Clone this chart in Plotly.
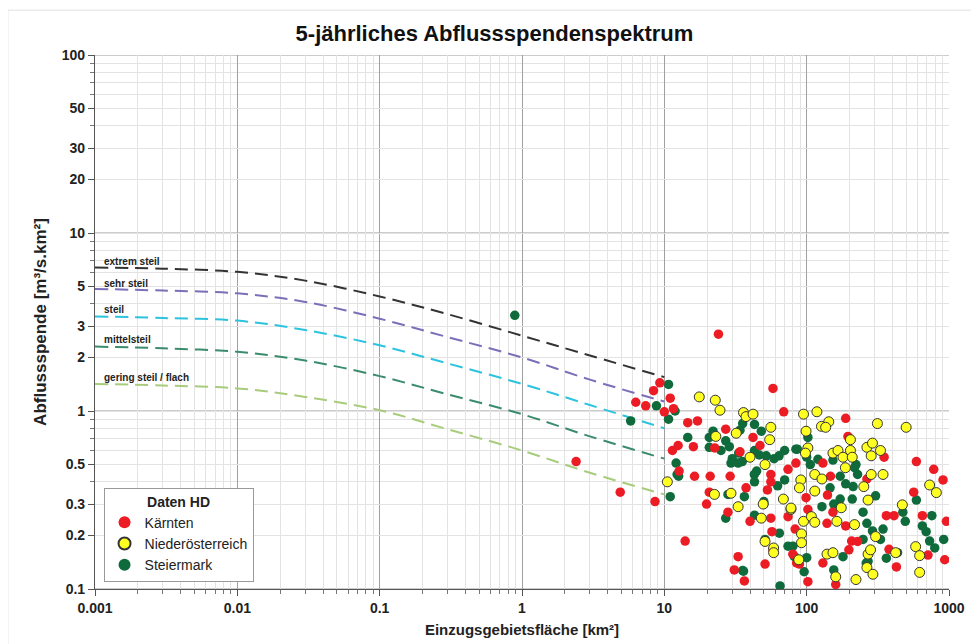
import plotly.graph_objects as go

# Bemessungskurven (Abflussspende je Steilheitsklasse)
curve_area = [0.001, 0.003, 0.01, 0.03, 0.1, 0.3, 1, 3, 10]
extrem_steil = [6.4, 6.3, 6.05, 5.4, 4.4, 3.5, 2.65, 2.05, 1.55]
sehr_steil = [4.85, 4.75, 4.58, 4.1, 3.3, 2.6, 2.0, 1.5, 1.13]
steil = [3.4, 3.33, 3.22, 2.85, 2.34, 1.85, 1.42, 1.08, 0.80]
mittelsteil = [2.3, 2.25, 2.15, 1.92, 1.57, 1.24, 0.96, 0.72, 0.54]
gering_steil = [1.42, 1.39, 1.34, 1.2, 1.01, 0.79, 0.60, 0.45, 0.34]

curve_names = ["extrem steil", "sehr steil", "steil", "mittelsteil", "gering steil / flach"]
curve_label_y = [0.84, 0.716, 0.57, 0.402, 0.19]  # log10 position of the labels

# Daten HD - Kärnten
kaernten_area = [24, 9.3, 8.4, 7.4, 6.3, 10, 11, 11.6, 14.6, 17.1, 11.4, 12.5, 16, 27, 22.6, 34, 42, 47,
                 58, 69, 84, 2.4, 4.9, 8.6, 12.7, 16.3, 21, 29, 37.5, 53, 56, 56, 74, 20.7, 19.8, 28, 40,
                 56, 57, 58, 74, 83, 80, 85, 51, 33, 31, 36.5, 14, 188, 195, 350, 590, 130, 147, 265,
                 781, 908, 565, 99, 140, 102, 153, 139, 188, 207, 228, 198, 363, 411, 650, 959, 379,
                 427, 712, 933, 130, 102, 160, 89]
kaernten_q = [2.7, 1.44, 1.30, 1.07, 1.12, 0.99, 1.18, 1.03, 0.86, 0.88, 0.60, 0.64, 0.63, 0.79, 0.62,
              0.59, 0.71, 0.64, 1.34, 0.99, 0.51, 0.52, 0.35, 0.31, 0.46, 0.43, 0.43, 0.43, 0.37, 0.36,
              0.40, 0.44, 0.47, 0.35, 0.30, 0.27, 0.24, 0.25, 0.21, 0.166, 0.255, 0.217, 0.157, 0.14,
              0.138, 0.152, 0.128, 0.111, 0.186, 0.91, 0.72, 0.55, 0.52, 0.51, 0.43, 0.415, 0.47, 0.41,
              0.35, 0.326, 0.337, 0.28, 0.27, 0.234, 0.226, 0.186, 0.185, 0.166, 0.258, 0.258, 0.258,
              0.24, 0.167, 0.133, 0.155, 0.146, 0.14, 0.11, 0.106, 0.138]

# Daten HD - Niederösterreich
noe_area = [10.5, 17.6, 22.8, 24.6, 36, 37.5, 42, 56, 55, 32, 23, 40, 51, 95, 118, 127, 143, 136, 99,
            203, 314, 500, 102, 98, 153, 166, 180, 203, 209, 265, 290, 284, 330, 22.5, 29.4, 33, 49.5,
            48, 51, 58.6, 58.6, 68.6, 77.5, 91, 89, 114, 128, 114, 187, 284, 344, 252, 270, 175, 470,
            731, 815, 77.6, 95, 108, 114, 163, 217, 92, 92, 139, 153, 305, 270, 281, 265, 292, 222,
            160, 422, 583, 622, 622, 88]
noe_q = [0.40, 1.20, 1.15, 1.01, 0.98, 0.93, 0.96, 0.81, 0.69, 0.75, 0.72, 0.55, 0.50, 0.96, 0.99, 0.82,
         0.87, 0.81, 0.77, 0.69, 0.85, 0.81, 0.62, 0.58, 0.58, 0.60, 0.55, 0.60, 0.55, 0.625, 0.66, 0.56,
         0.60, 0.34, 0.345, 0.29, 0.30, 0.25, 0.185, 0.17, 0.16, 0.32, 0.28, 0.41, 0.37, 0.44, 0.415,
         0.355, 0.48, 0.44, 0.44, 0.376, 0.316, 0.286, 0.297, 0.384, 0.348, 0.285, 0.24, 0.255, 0.237,
         0.24, 0.23, 0.204, 0.182, 0.157, 0.16, 0.197, 0.157, 0.166, 0.132, 0.121, 0.113, 0.117, 0.16,
         0.173, 0.154, 0.124, 0.146]

# Daten HD - Steiermark
stmk_area = [0.89, 5.8, 10.7, 8.8, 10.7, 11.9, 11, 12.1, 12.3, 12.6, 14.6, 20.7, 22, 20.7, 25, 27, 28.6,
             30, 34, 35.5, 43, 48, 52, 59, 70, 84, 43, 46.5, 29.4, 35.3, 64, 33.3, 102, 86, 120, 153, 106,
             222, 27, 28, 36.5, 42.9, 43, 43, 50, 51, 62.5, 64.3, 70, 74, 80, 65, 36, 33, 44.5, 100, 172,
             188, 212, 228, 217, 146, 172, 209, 128, 249, 305, 265, 290, 344, 330, 363, 474, 493, 590,
             650, 691, 758, 794, 731, 918, 180, 155, 96, 82, 270, 249, 100, 262, 435, 155, 50, 35.5]
stmk_q = [3.45, 0.88, 1.41, 1.07, 0.90, 1.0, 0.33, 0.51, 0.44, 0.43, 0.71, 0.71, 0.77, 0.625, 0.60, 0.68,
          0.63, 0.54, 0.78, 0.85, 0.84, 0.77, 0.56, 0.54, 0.60, 0.61, 0.60, 0.566, 0.51, 0.52, 0.56, 0.58,
          0.71, 0.61, 0.535, 0.53, 0.50, 0.50, 0.25, 0.34, 0.33, 0.44, 0.40, 0.26, 0.31, 0.19, 0.38,
          0.206, 0.41, 0.174, 0.174, 0.104, 0.126, 0.51, 0.46, 0.55, 0.43, 0.39, 0.376, 0.44, 0.48, 0.37,
          0.32, 0.32, 0.29, 0.27, 0.334, 0.234, 0.212, 0.217, 0.19, 0.149, 0.27, 0.24, 0.316, 0.226, 0.21,
          0.258, 0.17, 0.186, 0.19, 0.152, 0.128, 0.125, 0.152, 0.143, 0.19, 0.15, 0.14, 0.16, 0.30, 0.30,
          0.127]

x_ticks = [0.001, 0.01, 0.1, 1, 10, 100, 1000]
x_ticktext = ["0.001", "0.01", "0.1", "1", "10", "100", "1000"]
y_ticks = [0.1, 0.2, 0.3, 0.5, 1, 2, 3, 5, 10, 20, 30, 50, 100]
y_ticktext = ["0.1", "0.2", "0.3", "0.5", "1", "2", "3", "5", "10", "20", "30", "50", "100"]

FONT = "Liberation Sans, Arial, sans-serif"

fig = go.Figure()

curves = [extrem_steil, sehr_steil, steil, mittelsteil, gering_steil]
curve_colors = ["#333333", "#7a6fb8", "#2cc3df", "#3a8c6c", "#a8cc7c"]
for name, vals, col in zip(curve_names, curves, curve_colors):
    fig.add_trace(go.Scatter(
        x=curve_area, y=vals, mode="lines", name=name, showlegend=False,
        line=dict(color=col, width=2, dash="13px,7px", shape="spline"),
    ))

fig.add_trace(go.Scatter(
    x=stmk_area, y=stmk_q, mode="markers", name="Steiermark", legendrank=3,
    marker=dict(color="#0f6b3b", size=9.5, line=dict(width=0)),
))
fig.add_trace(go.Scatter(
    x=kaernten_area, y=kaernten_q, mode="markers", name="Kärnten", legendrank=1,
    marker=dict(color="#ec1c24", size=9.5, line=dict(width=0)),
))
fig.add_trace(go.Scatter(
    x=noe_area, y=noe_q, mode="markers", name="Niederösterreich", legendrank=2,
    marker=dict(color="#ffff22", size=10, line=dict(width=1, color="#333333")),
))

# labels of the curves
for name, ly in zip(curve_names, curve_label_y):
    fig.add_annotation(x=-2.95, y=ly, xref="x", yref="y", text=name, showarrow=False,
                       xanchor="left", yanchor="middle",
                       font=dict(family=FONT, size=10, color="#222", weight="bold"))

# darker decade lines on the y axis
shapes = []
for v in [0.1, 1, 10, 100]:
    shapes.append(dict(type="line", xref="paper", yref="y", x0=0, x1=1, y0=v, y1=v,
                       line=dict(color="#9a9a9a", width=1.2), layer="between"))
# light outer frame
shapes.append(dict(type="line", xref="paper", yref="paper", x0=-0.102, x1=1.1, y0=1.084, y1=1.084,
                   line=dict(color="#e2e2e2", width=1)))
shapes.append(dict(type="line", xref="paper", yref="paper", x0=-0.102, x1=-0.102, y0=-0.12, y1=1.084,
                   line=dict(color="#e2e2e2", width=1)))

minor_x = [m * 10 ** e for e in range(-3, 3) for m in range(2, 10)]
minor_y = [m * 10 ** e for e in range(-1, 2) for m in [4, 6, 7, 8, 9]]

fig.update_layout(
    width=971, height=636,
    margin=dict(l=87, r=30, t=47, b=55),
    paper_bgcolor="white", plot_bgcolor="white",
    font=dict(family=FONT, color="#222"),
    title=dict(text="5-jährliches Abflussspendenspektrum", x=0.501, xanchor="center",
               y=0.961, yanchor="middle", yref="container",
               font=dict(family=FONT, size=22, color="#111", weight="bold")),
    xaxis=dict(
        type="log", range=[-3, 3], tickvals=x_ticks, ticktext=x_ticktext,
        showgrid=True, gridcolor="#a0a0a0", gridwidth=1,
        ticks="outside", ticklen=6, tickcolor="#555",
        showline=True, linecolor="#555", linewidth=1.2, mirror=False,
        tickfont=dict(family=FONT, size=14, color="#222", weight="bold"),
        minor=dict(tickvals=minor_x, showgrid=True, gridcolor="#e3e3e3", ticks="outside",
                   ticklen=4, tickcolor="#777"),
        title=dict(text="Einzugsgebietsfläche [km²]", standoff=9,
                   font=dict(family=FONT, size=15, color="#222", weight="bold")),
        zeroline=False, automargin=False,
    ),
    yaxis=dict(
        type="log", range=[-1, 2], tickvals=y_ticks, ticktext=y_ticktext,
        showgrid=True, gridcolor="#e3e3e3", gridwidth=1,
        ticks="outside", ticklen=6, tickcolor="#555",
        showline=True, linecolor="#555", linewidth=1.2,
        tickfont=dict(family=FONT, size=14, color="#222", weight="bold"),
        minor=dict(tickvals=minor_y, showgrid=True, gridcolor="#e3e3e3", ticks="outside",
                   ticklen=4, tickcolor="#777"),
        title=dict(text="Abflussspende [m³/s.km²]", standoff=10,
                   font=dict(family=FONT, size=17, color="#222", weight="bold")),
        zeroline=False, automargin=False,
    ),
    shapes=shapes,
    legend=dict(
        x=0.01, y=0.19, xanchor="left", yanchor="top",
        bgcolor="white", bordercolor="#9a9a9a", borderwidth=1,
        font=dict(family=FONT, size=14, color="#222"),
        title=dict(text="Daten HD", side="top center",
                   font=dict(family=FONT, size=14, color="#222", weight="bold")),
        itemsizing="constant", tracegroupgap=0,
    ),
)

fig.write_html("out.html")
